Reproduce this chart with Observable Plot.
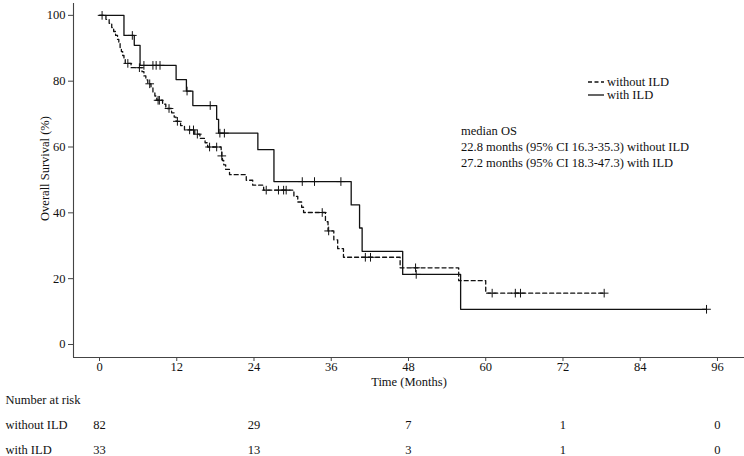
<!DOCTYPE html>
<html><head><meta charset="utf-8">
<script src="https://cdn.jsdelivr.net/npm/d3@7"></script>
<script src="https://cdn.jsdelivr.net/npm/@observablehq/plot@0.6"></script>
<style>
body{margin:0;background:#fff;}
#wrap{position:relative;width:744px;height:456px;background:#fff;font-family:"Liberation Serif","Times New Roman",serif;}
#wrap svg{display:block;}
.ov{position:absolute;left:0;top:0;}
</style></head><body><div id="wrap"></div>
<script>
// ---- data ----
const groups = ["without ILD", "with ILD"];

// without ILD (dashed): step times and survival (%) after each step
const woTimes = [0, 1.0, 1.5, 1.9, 2.2, 2.5, 2.8, 3.0, 3.2, 3.4, 3.6, 3.8, 4.0, 4.9, 6.6, 6.9, 7.2, 7.5, 8.0, 8.3, 8.6, 8.9, 9.8, 10.3, 11.2, 11.6, 11.9, 12.6, 13.2, 14.8, 15.6, 16.4, 16.8, 18.9, 19.0, 19.1, 19.3, 19.6, 20.2, 22.8, 23.8, 25.5, 30.2, 30.8, 31.4, 31.7, 35.1, 35.5, 36.4, 37.0, 37.9, 46.7, 55.8, 60.0];
const woSurv  = [100, 98.8, 97.6, 96.3, 95.1, 93.9, 92.7, 91.5, 90.2, 89.0, 87.8, 86.6, 85.4, 84.1, 82.9, 81.6, 80.4, 79.2, 78.0, 76.7, 75.5, 74.2, 73.0, 71.7, 70.4, 69.1, 67.8, 66.5, 65.2, 63.9, 62.6, 61.3, 60.0, 58.6, 57.3, 55.9, 54.6, 53.2, 51.6, 49.9, 48.4, 46.9, 45.0, 43.3, 41.7, 40.1, 37.3, 34.5, 31.8, 29.1, 26.5, 23.3, 19.4, 15.6];
const woEnd = 78.4;
const woCensor = [4.4, 6.2, 7.8, 9.1, 9.3, 10.8, 12.1, 14.0, 14.6, 15.2, 17.1, 18.2, 19.0, 25.9, 27.8, 28.6, 29.0, 34.6, 35.6, 41.3, 42.1, 49.1, 61.0, 64.6, 65.4, 78.4];

// with ILD (solid)
const wTimes = [0, 3.8, 5.4, 6.3, 11.9, 13.5, 14.5, 18.2, 18.5, 24.6, 27.1, 39.1, 40.4, 40.8, 47.1, 56.1];
const wSurv  = [100, 93.9, 90.9, 84.8, 80.5, 77.0, 72.6, 68.4, 64.2, 59.2, 49.5, 42.4, 35.4, 28.3, 21.3, 10.7];
const wEnd = 94.3;
const wCensor = [0.4, 5.1, 6.9, 8.3, 8.8, 9.4, 13.6, 17.2, 18.7, 19.4, 31.5, 33.4, 37.5, 49.2, 94.3];

// number at risk
const riskTimes = [0, 24, 48, 72, 96];
const riskWithout = [82, 29, 7, 1, 0];
const riskWith = [33, 13, 3, 1, 0];

const xTicks = [0, 12, 24, 36, 48, 60, 72, 84, 96];
const yTicks = [0, 20, 40, 60, 80, 100];
const xLabel = "Time (Months)";
const yLabel = "Overall Survival (%)";
const medianLines = ["median OS", "22.8 months (95% CI 16.3-35.3) without ILD", "27.2 months (95% CI 18.3-47.3) with ILD"];

// ---- build ----
function stepLine(times, surv, end) {
  const pts = times.map((t, i) => ({t, s: surv[i]}));
  pts.push({t: end, s: surv[surv.length - 1]});
  return pts;
}
function survAt(times, surv, t) {
  let s = surv[0];
  for (let i = 0; i < times.length; i++) if (times[i] <= t) s = surv[i];
  return s;
}
const woLine = stepLine(woTimes, woSurv, woEnd);
const wLine = stepLine(wTimes, wSurv, wEnd);
const woCens = woCensor.map(t => ({t, s: survAt(woTimes, woSurv, t)}));
const wCens = wCensor.map(t => ({t, s: survAt(wTimes, wSurv, t)}));

const xDomain = [-4.04, 100.2];
const yDomain = [-3.95, 103.6];
const font = '"Liberation Serif", "Times New Roman", serif';
const ink = "#111";
const fs = 12.5;

const main = Plot.plot({
  width: 744, height: 392,
  marginLeft: 73, marginRight: 0, marginTop: 3, marginBottom: 35,
  style: {fontFamily: font, fontSize: fs + "px", color: ink, background: "white", overflow: "visible"},
  x: {domain: xDomain},
  y: {domain: yDomain},
  marks: [
    Plot.ruleY([yDomain[0]], {stroke: "#444", strokeWidth: 1.1}),
    Plot.ruleX([xDomain[0]], {stroke: "#444", strokeWidth: 1.1}),
    Plot.axisX({ticks: xTicks, tickSize: 4, tickPadding: 1, label: null, fontSize: fs, stroke: "#444"}),
    Plot.axisY({ticks: yTicks, tickSize: 5, tickPadding: 3, label: null, fontSize: fs, stroke: "#444"}),
    Plot.text([xLabel], {text: d => d, frameAnchor: "bottom", dy: 28, fontSize: fs, fill: ink}),
    Plot.text([yLabel], {text: d => d, frameAnchor: "left", textAnchor: "middle", dx: -29, dy: -12, rotate: -90, fontSize: fs, fill: ink}),
    Plot.line(woLine, {x: "t", y: "s", curve: "step-after", stroke: "#111", strokeWidth: 1.3, strokeDasharray: "4,3"}),
    Plot.line(wLine, {x: "t", y: "s", curve: "step-after", stroke: "#111", strokeWidth: 1.3}),
    Plot.dot(woCens, {x: "t", y: "s", symbol: "plus", r: 2.9, stroke: "#111", strokeWidth: 1}),
    Plot.dot(wCens, {x: "t", y: "s", symbol: "plus", r: 2.9, stroke: "#111", strokeWidth: 1})
  ]
});

const rows = ["Number at risk", ...groups];
const riskData = riskTimes.flatMap((t, i) => [
  {t, g: groups[0], n: riskWithout[i]},
  {t, g: groups[1], n: riskWith[i]}
]);
const table = Plot.plot({
  width: 744, height: 64,
  marginLeft: 73, marginRight: 0, marginTop: 6, marginBottom: 7,
  style: {fontFamily: font, fontSize: fs + "px", color: ink, background: "white", overflow: "visible"},
  x: {domain: xDomain, axis: null},
  y: {type: "point", domain: rows, padding: 0, axis: null},
  marks: [
    Plot.text(rows, {y: d => d, text: d => d, frameAnchor: "left", dx: -68, textAnchor: "start", fontSize: fs, fill: ink}),
    Plot.text(riskData, {x: "t", y: "g", text: "n", fontSize: fs, fill: ink})
  ]
});

const wrap = document.getElementById("wrap");
wrap.appendChild(main);
wrap.appendChild(table);

// legend + median annotation overlay
const ov = d3.select(wrap).append("svg").attr("class", "ov")
  .attr("width", 744).attr("height", 456)
  .style("font-family", font).style("font-size", fs + "px");
const leg = [{g: groups[0], dash: "4,2.5"}, {g: groups[1], dash: null}];
leg.forEach((d, i) => {
  const y = 82 + i * 13;
  ov.append("line").attr("x1", 588).attr("x2", 604).attr("y1", y).attr("y2", y)
    .attr("stroke", "#111").attr("stroke-width", 1.3).attr("stroke-dasharray", d.dash);
  ov.append("text").attr("x", 607).attr("y", y).attr("dy", "0.32em").attr("fill", ink).text(d.g);
});
medianLines.forEach((s, i) => {
  ov.append("text").attr("x", 461).attr("y", 131 + i * 16).attr("dy", "0.32em").attr("fill", ink).text(s);
});
</script></body></html>
